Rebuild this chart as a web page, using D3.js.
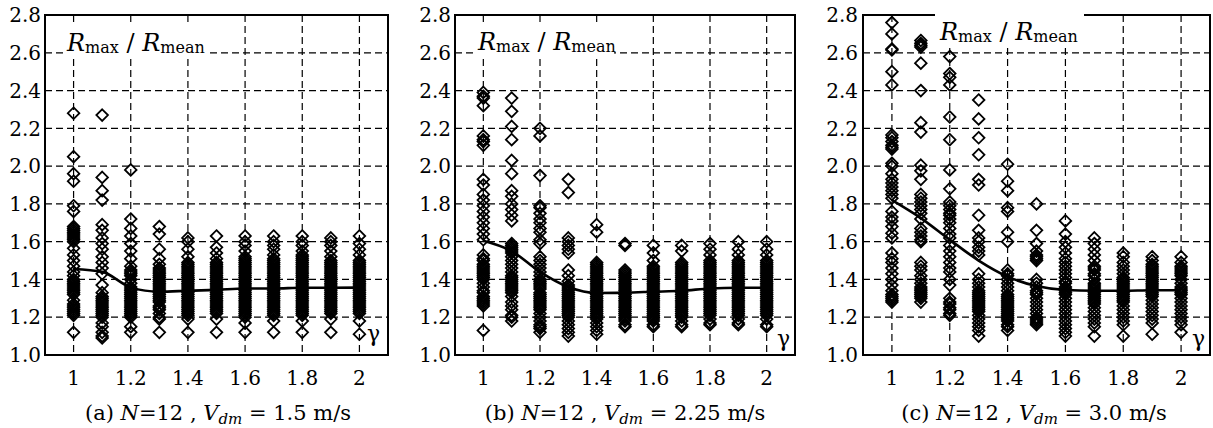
<!DOCTYPE html>
<html>
<head>
<meta charset="utf-8">
<script src="https://cdn.jsdelivr.net/npm/d3@7/dist/d3.min.js"></script>
<style>
  html, body { margin: 0; padding: 0; background: #fff; }
  svg { display: block; }
</style>
</head>
<body>
<svg id="chart" width="1213" height="428"></svg>
<script>
// Load ratio coefficient gamma (x) and peak-to-mean ratio Rmax/Rmean (y)
const gammas = [1.0, 1.1, 1.2, 1.3, 1.4, 1.5, 1.6, 1.7, 1.8, 1.9, 2.0];
const xTicks = [1, 1.2, 1.4, 1.6, 1.8, 2];
const xTickLabels = ["1", "1.2", "1.4", "1.6", "1.8", "2"];
const yTicks = [1.0, 1.2, 1.4, 1.6, 1.8, 2.0, 2.2, 2.4, 2.6, 2.8];
const yTickLabels = ["1.0", "1.2", "1.4", "1.6", "1.8", "2.0", "2.2", "2.4", "2.6", "2.8"];

// (a) N=12, Vdm = 1.5 m/s — one list of samples per gamma
const samplesA = [
  [2.28, 2.05, 1.96, 1.92, 1.79, 1.76, 1.68, 1.67, 1.66, 1.65, 1.64, 1.63, 1.62, 1.61, 1.60, 1.565, 1.53, 1.50, 1.47, 1.44, 1.42, 1.40, 1.39, 1.38, 1.37, 1.36, 1.35, 1.34, 1.33, 1.32, 1.29, 1.27, 1.26, 1.25, 1.24, 1.23, 1.22, 1.21, 1.12],
  [2.27, 1.94, 1.87, 1.82, 1.69, 1.66, 1.62, 1.59, 1.56, 1.52, 1.49, 1.46, 1.43, 1.37, 1.33, 1.31, 1.30, 1.29, 1.28, 1.27, 1.26, 1.25, 1.24, 1.23, 1.22, 1.21, 1.20, 1.17, 1.15, 1.12, 1.10, 1.09],
  [1.98, 1.72, 1.67, 1.63, 1.59, 1.55, 1.51, 1.47, 1.45, 1.44, 1.43, 1.42, 1.40, 1.38, 1.36, 1.35, 1.34, 1.33, 1.32, 1.31, 1.30, 1.29, 1.28, 1.27, 1.26, 1.25, 1.24, 1.23, 1.22, 1.21, 1.20, 1.15, 1.12],
  [1.68, 1.64, 1.56, 1.51, 1.48, 1.46, 1.45, 1.44, 1.43, 1.42, 1.41, 1.40, 1.39, 1.38, 1.37, 1.36, 1.35, 1.34, 1.33, 1.32, 1.31, 1.30, 1.29, 1.28, 1.26, 1.25, 1.24, 1.22, 1.20, 1.19, 1.12],
  [1.62, 1.60, 1.56, 1.52, 1.49, 1.48, 1.47, 1.46, 1.45, 1.44, 1.43, 1.42, 1.41, 1.40, 1.39, 1.38, 1.37, 1.36, 1.35, 1.34, 1.33, 1.32, 1.31, 1.30, 1.29, 1.28, 1.27, 1.26, 1.25, 1.24, 1.23, 1.22, 1.21, 1.19, 1.12],
  [1.63, 1.57, 1.54, 1.51, 1.49, 1.48, 1.47, 1.46, 1.45, 1.44, 1.43, 1.42, 1.41, 1.40, 1.39, 1.38, 1.37, 1.36, 1.35, 1.34, 1.33, 1.32, 1.31, 1.30, 1.29, 1.28, 1.27, 1.26, 1.25, 1.24, 1.23, 1.22, 1.19, 1.12],
  [1.63, 1.60, 1.58, 1.55, 1.52, 1.51, 1.50, 1.49, 1.48, 1.47, 1.46, 1.45, 1.44, 1.43, 1.42, 1.41, 1.40, 1.39, 1.38, 1.37, 1.36, 1.35, 1.34, 1.33, 1.32, 1.31, 1.30, 1.29, 1.28, 1.27, 1.26, 1.25, 1.24, 1.23, 1.22, 1.21, 1.20, 1.17, 1.12],
  [1.63, 1.60, 1.58, 1.56, 1.53, 1.51, 1.50, 1.49, 1.48, 1.47, 1.46, 1.45, 1.44, 1.43, 1.42, 1.41, 1.40, 1.39, 1.38, 1.37, 1.36, 1.35, 1.34, 1.33, 1.32, 1.31, 1.30, 1.29, 1.28, 1.27, 1.26, 1.25, 1.24, 1.23, 1.22, 1.21, 1.18, 1.12],
  [1.63, 1.60, 1.58, 1.55, 1.53, 1.52, 1.51, 1.50, 1.49, 1.48, 1.47, 1.46, 1.45, 1.44, 1.43, 1.42, 1.41, 1.40, 1.39, 1.38, 1.37, 1.36, 1.35, 1.34, 1.33, 1.32, 1.31, 1.30, 1.29, 1.28, 1.27, 1.26, 1.25, 1.24, 1.23, 1.22, 1.21, 1.18, 1.12],
  [1.62, 1.60, 1.58, 1.55, 1.52, 1.50, 1.49, 1.48, 1.47, 1.46, 1.45, 1.44, 1.43, 1.42, 1.41, 1.40, 1.39, 1.38, 1.37, 1.36, 1.35, 1.34, 1.33, 1.32, 1.31, 1.30, 1.29, 1.28, 1.27, 1.26, 1.25, 1.24, 1.23, 1.22, 1.19, 1.12],
  [1.63, 1.59, 1.56, 1.53, 1.50, 1.49, 1.48, 1.47, 1.46, 1.45, 1.44, 1.43, 1.42, 1.41, 1.40, 1.39, 1.38, 1.37, 1.36, 1.35, 1.34, 1.33, 1.32, 1.31, 1.30, 1.29, 1.28, 1.27, 1.26, 1.25, 1.24, 1.23, 1.22, 1.18, 1.11]
];
const meanA = [1.455, 1.44, 1.358, 1.335, 1.34, 1.345, 1.352, 1.352, 1.356, 1.356, 1.357];

// (b) N=12, Vdm = 2.25 m/s
const samplesB = [
  [2.39, 2.37, 2.36, 2.32, 2.16, 2.14, 2.13, 2.11, 1.93, 1.90, 1.85, 1.82, 1.79, 1.76, 1.73, 1.70, 1.67, 1.64, 1.61, 1.53, 1.51, 1.50, 1.48, 1.47, 1.46, 1.45, 1.44, 1.43, 1.42, 1.41, 1.40, 1.38, 1.36, 1.34, 1.33, 1.31, 1.30, 1.29, 1.28, 1.27, 1.26, 1.13],
  [2.36, 2.29, 2.21, 2.14, 2.03, 1.96, 1.87, 1.84, 1.80, 1.77, 1.74, 1.71, 1.59, 1.58, 1.57, 1.56, 1.55, 1.54, 1.52, 1.50, 1.48, 1.46, 1.44, 1.42, 1.41, 1.40, 1.39, 1.38, 1.37, 1.36, 1.35, 1.34, 1.33, 1.31, 1.28, 1.26, 1.24, 1.21, 1.20, 1.18],
  [2.20, 2.16, 1.95, 1.79, 1.78, 1.75, 1.72, 1.70, 1.67, 1.65, 1.61, 1.59, 1.52, 1.50, 1.48, 1.46, 1.44, 1.42, 1.40, 1.39, 1.38, 1.37, 1.36, 1.35, 1.33, 1.32, 1.31, 1.30, 1.29, 1.28, 1.27, 1.26, 1.25, 1.24, 1.22, 1.20, 1.18, 1.16, 1.15, 1.14, 1.12],
  [1.93, 1.86, 1.62, 1.60, 1.58, 1.56, 1.54, 1.45, 1.42, 1.39, 1.37, 1.36, 1.35, 1.34, 1.33, 1.32, 1.31, 1.30, 1.29, 1.28, 1.27, 1.26, 1.25, 1.24, 1.23, 1.22, 1.21, 1.20, 1.18, 1.16, 1.14, 1.12, 1.10],
  [1.69, 1.65, 1.49, 1.48, 1.47, 1.46, 1.45, 1.44, 1.43, 1.42, 1.41, 1.40, 1.39, 1.38, 1.37, 1.36, 1.35, 1.34, 1.33, 1.32, 1.31, 1.30, 1.29, 1.28, 1.27, 1.26, 1.25, 1.24, 1.23, 1.22, 1.21, 1.20, 1.19, 1.17, 1.15, 1.13, 1.11],
  [1.59, 1.58, 1.45, 1.44, 1.43, 1.42, 1.41, 1.40, 1.39, 1.38, 1.37, 1.36, 1.35, 1.34, 1.33, 1.32, 1.31, 1.30, 1.29, 1.28, 1.27, 1.26, 1.25, 1.24, 1.23, 1.22, 1.21, 1.20, 1.19, 1.18, 1.16, 1.15],
  [1.58, 1.54, 1.50, 1.47, 1.46, 1.45, 1.44, 1.43, 1.42, 1.41, 1.40, 1.39, 1.38, 1.37, 1.36, 1.35, 1.34, 1.33, 1.32, 1.31, 1.30, 1.29, 1.28, 1.27, 1.26, 1.25, 1.24, 1.23, 1.22, 1.21, 1.20, 1.19, 1.18, 1.16, 1.15],
  [1.58, 1.55, 1.49, 1.48, 1.47, 1.46, 1.45, 1.44, 1.43, 1.42, 1.41, 1.40, 1.39, 1.38, 1.37, 1.36, 1.35, 1.34, 1.33, 1.32, 1.31, 1.30, 1.29, 1.28, 1.27, 1.26, 1.25, 1.24, 1.23, 1.22, 1.21, 1.20, 1.18, 1.16, 1.15],
  [1.59, 1.56, 1.53, 1.50, 1.49, 1.48, 1.47, 1.46, 1.45, 1.44, 1.43, 1.42, 1.41, 1.40, 1.39, 1.38, 1.37, 1.36, 1.35, 1.34, 1.33, 1.32, 1.31, 1.30, 1.29, 1.28, 1.27, 1.26, 1.25, 1.24, 1.23, 1.22, 1.21, 1.19, 1.17, 1.16],
  [1.60, 1.56, 1.53, 1.50, 1.49, 1.48, 1.47, 1.46, 1.45, 1.44, 1.43, 1.42, 1.41, 1.40, 1.39, 1.38, 1.37, 1.36, 1.35, 1.34, 1.33, 1.32, 1.31, 1.30, 1.29, 1.28, 1.27, 1.26, 1.25, 1.24, 1.23, 1.22, 1.21, 1.19, 1.17, 1.16],
  [1.60, 1.56, 1.53, 1.50, 1.49, 1.48, 1.47, 1.46, 1.45, 1.44, 1.43, 1.42, 1.41, 1.40, 1.39, 1.38, 1.37, 1.36, 1.35, 1.34, 1.33, 1.32, 1.31, 1.30, 1.29, 1.28, 1.27, 1.26, 1.25, 1.24, 1.23, 1.22, 1.21, 1.19, 1.16, 1.15]
];
const meanB = [1.605, 1.55, 1.44, 1.36, 1.328, 1.33, 1.335, 1.34, 1.352, 1.356, 1.356];

// (c) N=12, Vdm = 3.0 m/s
const samplesC = [
  [2.76, 2.70, 2.62, 2.615, 2.50, 2.43, 2.165, 2.15, 2.13, 2.11, 2.10, 2.09, 2.015, 2.00, 1.96, 1.93, 1.91, 1.89, 1.87, 1.85, 1.83, 1.76, 1.73, 1.71, 1.68, 1.645, 1.62, 1.54, 1.51, 1.49, 1.46, 1.43, 1.40, 1.37, 1.34, 1.32, 1.31, 1.30, 1.29, 1.28],
  [2.665, 2.65, 2.64, 2.63, 2.545, 2.40, 2.23, 2.18, 2.005, 1.975, 1.93, 1.85, 1.83, 1.81, 1.79, 1.77, 1.75, 1.72, 1.67, 1.65, 1.63, 1.61, 1.60, 1.49, 1.47, 1.45, 1.42, 1.40, 1.38, 1.36, 1.35, 1.34, 1.33, 1.32, 1.31, 1.30, 1.28],
  [2.58, 2.49, 2.47, 2.43, 2.26, 2.14, 1.98, 1.88, 1.81, 1.79, 1.77, 1.75, 1.74, 1.72, 1.70, 1.67, 1.64, 1.62, 1.58, 1.55, 1.52, 1.49, 1.46, 1.44, 1.40, 1.37, 1.30, 1.28, 1.27, 1.25, 1.24, 1.22, 1.21],
  [2.35, 2.25, 2.15, 2.06, 1.93, 1.90, 1.74, 1.66, 1.62, 1.60, 1.57, 1.55, 1.53, 1.43, 1.40, 1.38, 1.36, 1.34, 1.33, 1.32, 1.31, 1.30, 1.29, 1.28, 1.27, 1.26, 1.25, 1.24, 1.23, 1.21, 1.19, 1.17, 1.15, 1.13, 1.10],
  [2.01, 1.92, 1.87, 1.78, 1.76, 1.65, 1.60, 1.45, 1.43, 1.42, 1.40, 1.38, 1.36, 1.34, 1.32, 1.31, 1.30, 1.29, 1.28, 1.27, 1.26, 1.25, 1.24, 1.23, 1.22, 1.21, 1.20, 1.19, 1.18, 1.16, 1.15, 1.13],
  [1.80, 1.66, 1.59, 1.55, 1.53, 1.52, 1.51, 1.50, 1.40, 1.38, 1.36, 1.34, 1.33, 1.32, 1.30, 1.28, 1.26, 1.24, 1.22, 1.20, 1.19, 1.18, 1.17, 1.16],
  [1.71, 1.64, 1.60, 1.57, 1.54, 1.51, 1.49, 1.47, 1.45, 1.43, 1.41, 1.39, 1.38, 1.36, 1.35, 1.34, 1.33, 1.32, 1.30, 1.28, 1.26, 1.24, 1.22, 1.20, 1.18, 1.16, 1.14, 1.12, 1.10],
  [1.62, 1.59, 1.56, 1.53, 1.50, 1.47, 1.46, 1.45, 1.43, 1.42, 1.40, 1.38, 1.37, 1.36, 1.35, 1.34, 1.33, 1.32, 1.31, 1.30, 1.29, 1.28, 1.27, 1.25, 1.23, 1.21, 1.19, 1.17, 1.15, 1.10],
  [1.54, 1.52, 1.49, 1.47, 1.45, 1.43, 1.41, 1.40, 1.39, 1.38, 1.37, 1.36, 1.35, 1.34, 1.33, 1.32, 1.31, 1.30, 1.29, 1.28, 1.26, 1.24, 1.22, 1.20, 1.18, 1.16, 1.10],
  [1.52, 1.50, 1.48, 1.47, 1.46, 1.45, 1.44, 1.43, 1.42, 1.41, 1.40, 1.39, 1.38, 1.37, 1.36, 1.35, 1.34, 1.33, 1.32, 1.31, 1.29, 1.27, 1.25, 1.23, 1.21, 1.19, 1.17, 1.11],
  [1.52, 1.49, 1.47, 1.46, 1.45, 1.44, 1.43, 1.42, 1.40, 1.38, 1.36, 1.35, 1.34, 1.33, 1.32, 1.30, 1.28, 1.26, 1.24, 1.22, 1.20, 1.18, 1.16, 1.12]
];
const meanC = [1.82, 1.725, 1.61, 1.50, 1.415, 1.365, 1.344, 1.34, 1.34, 1.343, 1.343];

const captionLetters = ["(a) ", "(b) ", "(c) "];
const speedLabels = ["1.5", "2.25", "3.0"];

// Panel frames (pixel layout)
const panels = [
  { samples: samplesA, mean: meanA, x0: 45,  x1: 388,  tickRight: 41,  label: { x: 67,  y: 51, box: [65, 24, 143, 34] }, gamma: [367, 341], capX: 218 },
  { samples: samplesB, mean: meanB, x0: 455, x1: 795,  tickRight: 451, label: { x: 478, y: 50, box: [476, 24, 138, 34] }, gamma: [777, 346], capX: 625 },
  { samples: samplesC, mean: meanC, x0: 863, x1: 1210, tickRight: 858, label: { x: 940, y: 40, box: [935, 8, 149, 38] }, gamma: [1192, 346], capX: 1034 }
];
const yTop = 15, yBottom = 355;
const serif = "'DejaVu Serif', 'Liberation Serif', 'Noto Serif', serif";

const svg = d3.select("#chart").attr("font-family", serif);
const diamond = "M0,-5.8L5.8,0L0,5.8L-5.8,0Z";

panels.forEach((p, i) => {
  const x = d3.scaleLinear().domain([0.9, 2.1]).range([p.x0, p.x1]);
  const y = d3.scaleLinear().domain([1.0, 2.8]).range([yBottom, yTop]);
  const g = svg.append("g");

  // dashed grid
  g.append("g").selectAll("line.v").data(xTicks).join("line")
    .attr("x1", d => x(d)).attr("x2", d => x(d))
    .attr("y1", yTop).attr("y2", yBottom)
    .attr("stroke", "#000").attr("stroke-width", 1.2).attr("stroke-dasharray", "7,4");
  g.append("g").selectAll("line.h").data(yTicks.slice(1, -1)).join("line")
    .attr("x1", p.x0).attr("x2", p.x1)
    .attr("y1", d => y(d)).attr("y2", d => y(d))
    .attr("stroke", "#000").attr("stroke-width", 1.2).attr("stroke-dasharray", "7,4");

  // frame
  g.append("rect")
    .attr("x", p.x0).attr("y", yTop)
    .attr("width", p.x1 - p.x0).attr("height", yBottom - yTop)
    .attr("fill", "none").attr("stroke", "#000").attr("stroke-width", 2);

  // background for the ratio label
  g.append("rect")
    .attr("x", p.label.box[0]).attr("y", p.label.box[1])
    .attr("width", p.label.box[2]).attr("height", p.label.box[3])
    .attr("fill", "#fff");

  // tick labels
  g.append("g").selectAll("text").data(yTicks).join("text")
    .attr("x", p.tickRight).attr("y", d => y(d))
    .attr("dy", "0.36em").attr("text-anchor", "end")
    .attr("font-size", 20)
    .text((d, k) => yTickLabels[k]);
  g.append("g").selectAll("text").data(xTicks).join("text")
    .attr("x", d => x(d)).attr("y", 385)
    .attr("text-anchor", "middle").attr("font-size", 20)
    .text((d, k) => xTickLabels[k]);

  // samples
  const pts = [];
  p.samples.forEach((col, k) => col.forEach(v => pts.push({ g: gammas[k], v })));
  g.append("g").selectAll("path").data(pts).join("path")
    .attr("d", diamond)
    .attr("transform", d => `translate(${x(d.g)},${y(d.v)})`)
    .attr("fill", "none").attr("stroke", "#000").attr("stroke-width", 1.8);

  // mean curve
  const line = d3.line().x((d, k) => x(gammas[k])).y(d => y(d)).curve(d3.curveMonotoneX);
  g.append("path").datum(p.mean).attr("d", line)
    .attr("fill", "none").attr("stroke", "#000").attr("stroke-width", 2.6);

  // Rmax / Rmean label
  const lab = g.append("text")
    .attr("x", p.label.x).attr("y", p.label.y).attr("font-size", 24);
  lab.append("tspan").attr("font-style", "italic").text("R");
  lab.append("tspan").attr("font-size", 16).attr("dy", 2).text("max");
  lab.append("tspan").attr("dy", -2).text(" / ");
  lab.append("tspan").attr("font-style", "italic").text("R");
  lab.append("tspan").attr("font-size", 16).attr("dy", 2).text("mean");

  // axis symbol
  g.append("text")
    .attr("x", p.gamma[0]).attr("y", p.gamma[1]).attr("font-size", 22).text("γ");

  // caption
  const cap = g.append("text")
    .attr("x", p.capX).attr("y", 420)
    .attr("text-anchor", "middle").attr("font-size", 21);
  cap.append("tspan").text(captionLetters[i]);
  cap.append("tspan").attr("font-style", "italic").text("N");
  cap.append("tspan").text("=12 , ");
  cap.append("tspan").attr("font-style", "italic").text("V");
  cap.append("tspan").attr("font-style", "italic").attr("font-size", 15).attr("dy", 4).text("dm");
  cap.append("tspan").attr("dy", -4).text(" = " + speedLabels[i] + " m/s");
});
</script>
</body>
</html>
